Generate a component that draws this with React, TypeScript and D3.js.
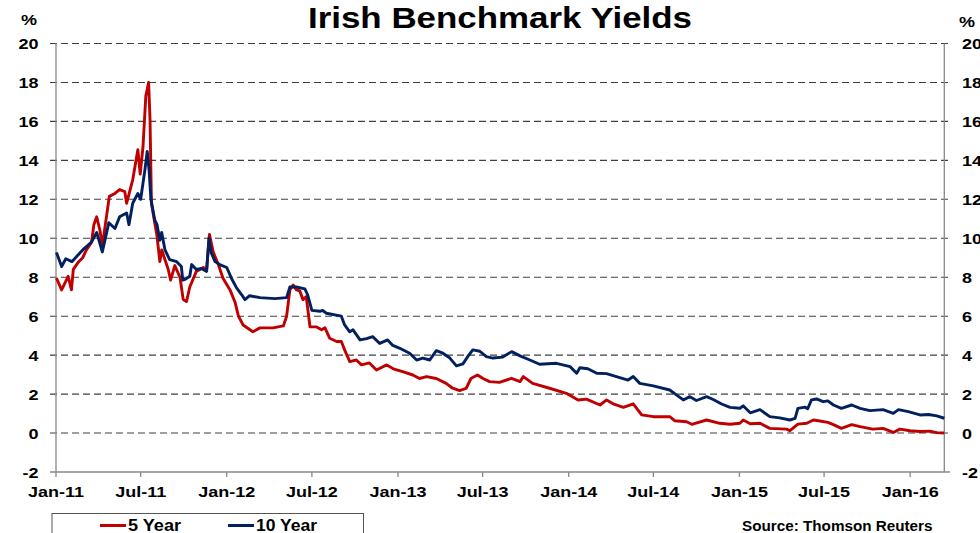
import { useEffect, useRef } from "react"
import * as d3 from "d3"

// 5 year yield
const fiveYear: [string, number][] = [
  ["2011-01-02", 7.95], ["2011-01-13", 7.35], ["2011-01-20", 7.7], ["2011-01-27", 8.05],
  ["2011-02-03", 7.35], ["2011-02-07", 8.4], ["2011-02-17", 8.75], ["2011-02-27", 9.0],
  ["2011-03-07", 9.4], ["2011-03-18", 9.8], ["2011-03-23", 10.7], ["2011-03-29", 11.1],
  ["2011-04-05", 10.4], ["2011-04-10", 9.6], ["2011-04-25", 12.15], ["2011-05-07", 12.3],
  ["2011-05-17", 12.5], ["2011-05-28", 12.4], ["2011-06-01", 11.8], ["2011-06-14", 13.0],
  ["2011-06-25", 14.55], ["2011-06-30", 13.3], ["2011-07-06", 14.7], ["2011-07-12", 17.3],
  ["2011-07-18", 18.0], ["2011-07-21", 16.1], ["2011-07-24", 11.8], ["2011-08-05", 10.1],
  ["2011-08-11", 8.8], ["2011-08-15", 9.4], ["2011-08-29", 8.4], ["2011-09-03", 7.85],
  ["2011-09-12", 8.6], ["2011-09-23", 8.0], ["2011-09-30", 6.85], ["2011-10-07", 6.75],
  ["2011-10-14", 7.5], ["2011-10-28", 8.3], ["2011-11-12", 8.5], ["2011-11-19", 8.4],
  ["2011-11-25", 10.2], ["2011-12-03", 9.3], ["2011-12-14", 8.65], ["2011-12-24", 7.95],
  ["2012-01-08", 7.35], ["2012-01-19", 6.7], ["2012-01-26", 6.0], ["2012-02-05", 5.55],
  ["2012-02-26", 5.2], ["2012-03-12", 5.4], ["2012-04-09", 5.4], ["2012-05-01", 5.5],
  ["2012-05-08", 6.0], ["2012-05-15", 7.35], ["2012-05-22", 7.6], ["2012-05-29", 7.35],
  ["2012-06-05", 7.3], ["2012-06-12", 6.85], ["2012-06-19", 7.0], ["2012-06-27", 5.45],
  ["2012-07-11", 5.45], ["2012-07-22", 5.3], ["2012-07-29", 5.4], ["2012-08-08", 4.87],
  ["2012-08-23", 4.7], ["2012-09-02", 4.7], ["2012-09-09", 4.27], ["2012-09-20", 3.67],
  ["2012-10-04", 3.75], ["2012-10-15", 3.5], ["2012-11-01", 3.6], ["2012-11-16", 3.24],
  ["2012-12-08", 3.5], ["2012-12-22", 3.3], ["2013-01-11", 3.15], ["2013-02-02", 2.98],
  ["2013-02-16", 2.8], ["2013-03-03", 2.9], ["2013-03-24", 2.8], ["2013-04-14", 2.55],
  ["2013-04-28", 2.3], ["2013-05-13", 2.18], ["2013-05-27", 2.3], ["2013-06-06", 2.8],
  ["2013-06-20", 2.98], ["2013-07-02", 2.8], ["2013-07-16", 2.64], ["2013-08-06", 2.6],
  ["2013-09-01", 2.81], ["2013-09-19", 2.64], ["2013-09-26", 2.9], ["2013-10-16", 2.55],
  ["2013-11-21", 2.3], ["2013-12-27", 2.04], ["2014-01-21", 1.7], ["2014-02-08", 1.74],
  ["2014-03-09", 1.44], ["2014-03-23", 1.7], ["2014-04-06", 1.5], ["2014-04-28", 1.32],
  ["2014-05-19", 1.5], ["2014-06-06", 0.93], ["2014-07-01", 0.84], ["2014-08-05", 0.84],
  ["2014-08-16", 0.63], ["2014-09-10", 0.58], ["2014-09-21", 0.45], ["2014-10-23", 0.67],
  ["2014-11-20", 0.5], ["2014-12-12", 0.45], ["2015-01-02", 0.5], ["2015-01-09", 0.67],
  ["2015-01-24", 0.48], ["2015-02-14", 0.5], ["2015-03-07", 0.24], ["2015-04-12", 0.2],
  ["2015-04-19", 0.12], ["2015-05-06", 0.46], ["2015-05-25", 0.5], ["2015-06-08", 0.67],
  ["2015-06-22", 0.62], ["2015-07-09", 0.55], ["2015-07-21", 0.43], ["2015-08-07", 0.24],
  ["2015-08-29", 0.43], ["2015-09-16", 0.33], ["2015-10-13", 0.2], ["2015-11-04", 0.24],
  ["2015-11-26", 0.03], ["2015-12-10", 0.2], ["2016-01-01", 0.12], ["2016-01-22", 0.08],
  ["2016-02-12", 0.1], ["2016-02-27", 0.02], ["2016-03-14", 0.0],
]

// 10 year yield
const tenYear: [string, number][] = [
  ["2011-01-02", 9.27], ["2011-01-13", 8.55], ["2011-01-22", 8.95], ["2011-02-04", 8.8],
  ["2011-02-27", 9.4], ["2011-03-18", 9.8], ["2011-03-29", 10.3], ["2011-04-10", 9.3],
  ["2011-04-24", 10.8], ["2011-05-07", 10.5], ["2011-05-17", 11.1], ["2011-06-01", 11.3],
  ["2011-06-06", 10.7], ["2011-06-14", 11.8], ["2011-06-25", 12.3], ["2011-07-01", 12.0],
  ["2011-07-10", 13.5], ["2011-07-15", 14.46], ["2011-07-19", 13.5], ["2011-07-23", 12.0],
  ["2011-07-31", 10.95], ["2011-08-05", 10.7], ["2011-08-11", 9.9], ["2011-08-15", 10.3],
  ["2011-08-22", 9.4], ["2011-09-01", 8.9], ["2011-09-16", 8.8], ["2011-09-26", 8.55],
  ["2011-09-29", 7.85], ["2011-10-05", 7.9], ["2011-10-14", 8.05], ["2011-10-18", 8.65],
  ["2011-10-28", 8.4], ["2011-11-08", 8.45], ["2011-11-19", 8.3], ["2011-11-24", 10.0],
  ["2011-11-29", 9.25], ["2011-12-07", 8.8], ["2011-12-17", 8.65], ["2012-01-01", 8.5],
  ["2012-01-11", 7.95], ["2012-01-22", 7.45], ["2012-02-02", 7.1], ["2012-02-09", 6.85],
  ["2012-02-19", 7.05], ["2012-03-12", 6.95], ["2012-04-13", 6.9], ["2012-05-08", 6.95],
  ["2012-05-15", 7.5], ["2012-05-29", 7.5], ["2012-06-16", 7.4], ["2012-06-22", 7.1],
  ["2012-07-01", 6.3], ["2012-07-18", 6.25], ["2012-07-24", 6.3], ["2012-08-01", 6.15],
  ["2012-09-02", 6.0], ["2012-09-09", 5.55], ["2012-09-20", 5.2], ["2012-09-27", 5.3],
  ["2012-10-12", 4.78], ["2012-10-26", 4.85], ["2012-11-08", 4.95], ["2012-11-23", 4.6],
  ["2012-12-10", 4.78], ["2012-12-21", 4.5], ["2013-01-05", 4.35], ["2013-01-26", 4.1],
  ["2013-02-10", 3.75], ["2013-02-23", 3.85], ["2013-03-10", 3.75], ["2013-03-24", 4.23],
  ["2013-04-07", 4.1], ["2013-04-22", 3.85], ["2013-05-06", 3.45], ["2013-05-20", 3.55],
  ["2013-05-30", 3.92], ["2013-06-10", 4.27], ["2013-06-25", 4.2], ["2013-07-09", 3.92],
  ["2013-07-23", 3.85], ["2013-08-13", 3.9], ["2013-09-01", 4.18], ["2013-09-19", 3.96],
  ["2013-10-10", 3.75], ["2013-10-31", 3.53], ["2013-12-06", 3.58], ["2014-01-04", 3.41],
  ["2014-01-18", 3.07], ["2014-01-25", 3.35], ["2014-02-11", 3.3], ["2014-03-02", 3.07],
  ["2014-03-23", 3.05], ["2014-04-13", 2.9], ["2014-05-08", 2.72], ["2014-05-19", 2.9],
  ["2014-06-02", 2.55], ["2014-07-01", 2.42], ["2014-08-05", 2.21], ["2014-08-20", 1.95],
  ["2014-09-03", 1.7], ["2014-09-17", 1.87], ["2014-10-01", 1.67], ["2014-10-23", 1.87],
  ["2014-11-06", 1.72], ["2014-11-24", 1.49], ["2014-12-12", 1.32], ["2015-01-02", 1.27],
  ["2015-01-09", 1.4], ["2015-01-24", 1.04], ["2015-02-14", 1.2], ["2015-03-07", 0.84],
  ["2015-03-28", 0.78], ["2015-04-19", 0.67], ["2015-04-30", 0.75], ["2015-05-06", 1.27],
  ["2015-05-21", 1.33], ["2015-05-27", 1.25], ["2015-06-04", 1.7], ["2015-06-15", 1.75],
  ["2015-06-29", 1.61], ["2015-07-09", 1.65], ["2015-07-21", 1.44], ["2015-08-07", 1.27],
  ["2015-08-29", 1.44], ["2015-09-16", 1.27], ["2015-10-07", 1.15], ["2015-11-04", 1.2],
  ["2015-11-26", 1.01], ["2015-12-07", 1.2], ["2015-12-28", 1.1], ["2016-01-22", 0.93],
  ["2016-02-09", 0.95], ["2016-02-27", 0.88], ["2016-03-14", 0.76],
]

const yTicks = [-2, 0, 2, 4, 6, 8, 10, 12, 14, 16, 18, 20]
const xTicks = [
  "2011-01-01", "2011-07-01", "2012-01-01", "2012-07-01", "2013-01-01", "2013-07-01",
  "2014-01-01", "2014-07-01", "2015-01-01", "2015-07-01", "2016-01-01",
]
const seriesNames = ["5 Year", "10 Year"]
const seriesColors = ["#C00000", "#002060"]

export default function App() {
  const svgRef = useRef<SVGSVGElement>(null)

  useEffect(() => {
    if (!svgRef.current) return
    const svg = d3.select(svgRef.current)
    svg.selectAll("*").remove()

    const font = "'Liberation Sans', Arial, sans-serif"
    const parse = d3.timeParse("%Y-%m-%d")
    const fmt = d3.timeFormat("%b-%y")

    const x = d3
      .scaleTime()
      .domain([parse("2011-01-01") as Date, parse("2016-03-14") as Date])
      .range([56, 944.3])
    const y = d3.scaleLinear().domain([-2, 20]).range([472, 43.5])

    svg.append("rect").attr("width", 980).attr("height", 533).attr("fill", "white")

    // dashed gridlines
    svg
      .append("g")
      .selectAll("line")
      .data(yTicks.filter((d) => d > -2))
      .join("line")
      .attr("x1", 50)
      .attr("x2", 950)
      .attr("y1", (d) => y(d))
      .attr("y2", (d) => y(d))
      .attr("stroke", "#404040")
      .attr("stroke-width", 1.1)
      .attr("stroke-dasharray", "7,4")

    // axes lines
    const axisColor = "#888"
    svg.append("line").attr("x1", 56).attr("x2", 56).attr("y1", y(20)).attr("y2", 472)
      .attr("stroke", axisColor).attr("stroke-width", 1.3)
    svg.append("line").attr("x1", 944.3).attr("x2", 944.3).attr("y1", y(20)).attr("y2", 472)
      .attr("stroke", axisColor).attr("stroke-width", 1.3)
    svg.append("line").attr("x1", 50).attr("x2", 950).attr("y1", 472).attr("y2", 472)
      .attr("stroke", axisColor).attr("stroke-width", 1.3)

    // x ticks
    const xt = svg.append("g")
    xt.selectAll("line")
      .data(xTicks)
      .join("line")
      .attr("x1", (d) => x(parse(d) as Date))
      .attr("x2", (d) => x(parse(d) as Date))
      .attr("y1", 472)
      .attr("y2", 477)
      .attr("stroke", axisColor)
      .attr("stroke-width", 1.3)
    xt.selectAll("text")
      .data(xTicks)
      .join("text")
      .attr("transform", (d) => `translate(${x(parse(d) as Date)},497) scale(1.2,1)`)
      .attr("text-anchor", "middle")
      .attr("font-family", font)
      .attr("font-weight", "bold")
      .attr("font-size", 15)
      .attr("fill", "#000")
      .text((d) => fmt(parse(d) as Date))

    // y tick labels both sides
    const yl = svg.append("g")
    yl.selectAll("text.l")
      .data(yTicks)
      .join("text")
      .attr("class", "l")
      .attr("transform", (d) => `translate(38.5,${y(d) + 5.5}) scale(1.2,1)`)
      .attr("text-anchor", "end")
      .attr("font-family", font)
      .attr("font-weight", "bold")
      .attr("font-size", 15)
      .text((d) => d)
    yl.selectAll("text.r")
      .data(yTicks)
      .join("text")
      .attr("class", "r")
      .attr("transform", (d) => `translate(962,${y(d) + 5.5}) scale(1.2,1)`)
      .attr("text-anchor", "start")
      .attr("font-family", font)
      .attr("font-weight", "bold")
      .attr("font-size", 15)
      .text((d) => d)

    svg.append("text")
      .attr("transform", "translate(37,25) scale(1.2,1)")
      .attr("text-anchor", "end")
      .attr("font-family", font).attr("font-weight", "bold").attr("font-size", 15)
      .text("%")
    svg.append("text")
      .attr("transform", "translate(959,27) scale(1.2,1)")
      .attr("font-family", font).attr("font-weight", "bold").attr("font-size", 15)
      .text("%")

    // title
    svg.append("text")
      .attr("x", 500)
      .attr("y", 28)
      .attr("text-anchor", "middle")
      .attr("font-family", font)
      .attr("font-weight", "bold")
      .attr("font-size", 30)
      .attr("textLength", 384)
      .attr("lengthAdjust", "spacingAndGlyphs")
      .text("Irish Benchmark Yields")

    // series lines
    const line = d3
      .line<[string, number]>()
      .x((d) => x(parse(d[0]) as Date))
      .y((d) => y(d[1]))
    ;[fiveYear, tenYear].forEach((data, i) => {
      svg.append("path")
        .datum(data)
        .attr("fill", "none")
        .attr("stroke", seriesColors[i])
        .attr("stroke-width", 2.9)
        .attr("stroke-linejoin", "round")
        .attr("d", line)
    })

    // legend
    const legend = svg.append("g")
    legend.append("rect")
      .attr("x", 52).attr("y", 513.5).attr("width", 311.5).attr("height", 30)
      .attr("fill", "none").attr("stroke", "#555").attr("stroke-width", 1)
    const legendX = [100, 228]
    const legendW = [53, 61]
    seriesNames.forEach((name, i) => {
      legend.append("line")
        .attr("x1", legendX[i]).attr("x2", legendX[i] + 26)
        .attr("y1", 525.5).attr("y2", 525.5)
        .attr("stroke", seriesColors[i]).attr("stroke-width", 3)
      legend.append("text")
        .attr("x", legendX[i] + 28).attr("y", 531)
        .attr("font-family", font).attr("font-weight", "bold").attr("font-size", 16)
        .attr("textLength", legendW[i]).attr("lengthAdjust", "spacingAndGlyphs")
        .text(name)
    })

    svg.append("text")
      .attr("x", 742).attr("y", 530.5)
      .attr("font-family", font).attr("font-weight", "bold").attr("font-size", 14)
      .attr("textLength", 190.5).attr("lengthAdjust", "spacingAndGlyphs")
      .text("Source: Thomson Reuters")
  }, [])

  return (
    <svg
      ref={svgRef}
      width={980}
      height={533}
      style={{ position: "absolute", left: 0, top: 0, display: "block" }}
    />
  )
}
